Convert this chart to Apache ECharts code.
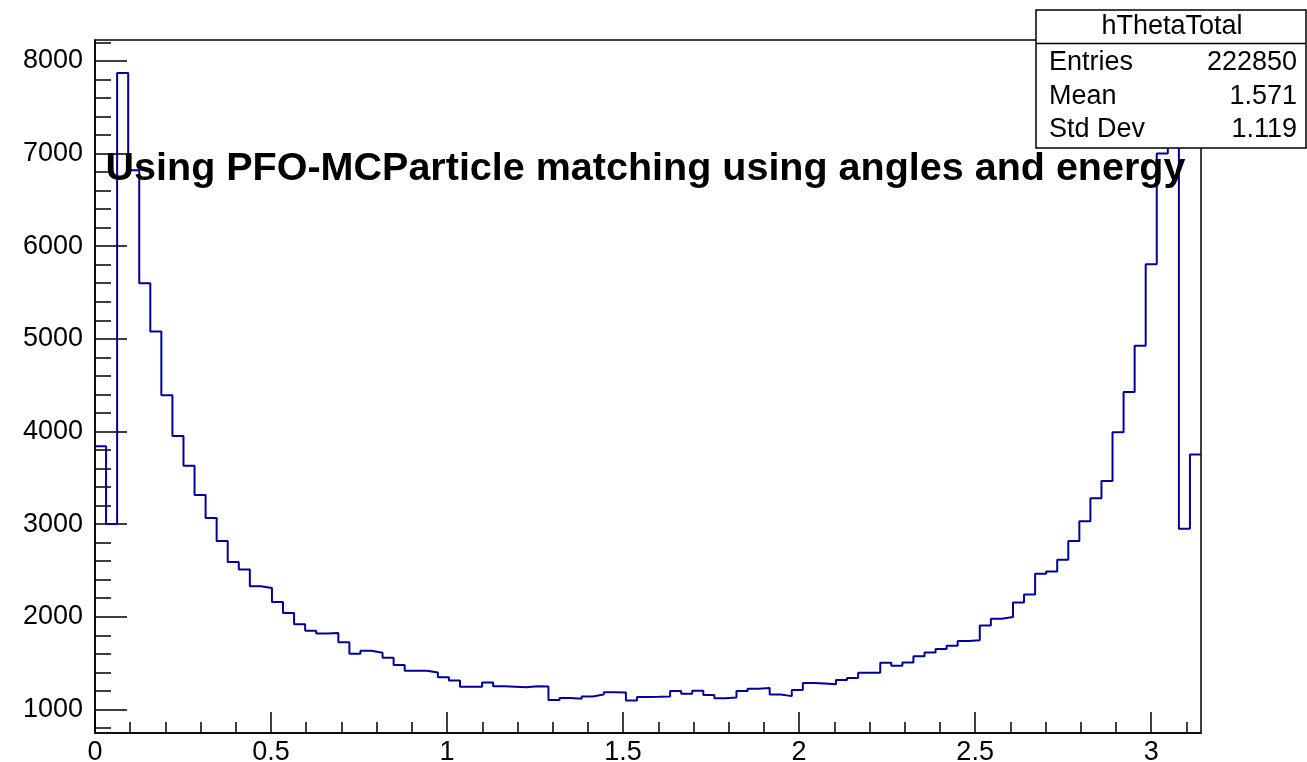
<!DOCTYPE html>
<html>
<head>
<meta charset="utf-8">
<title>hThetaTotal</title>
<script src="https://cdn.jsdelivr.net/npm/echarts@6/dist/echarts.min.js"></script>
<style>
  html, body { margin: 0; padding: 0; background: #fff; }
  #main { width: 1307px; height: 762px; }
</style>
</head>
<body>
<div id="main"></div>
<script>
  // hThetaTotal : 100 bins between 0 and pi
  var nBins = 100;
  var xMin = 0;
  var xMax = Math.PI;
  var binCounts = [
    3840, 3000, 7870, 6820, 5600, 5080, 4390, 3950, 3630, 3315,
    3065, 2817, 2590, 2510, 2330, 2310, 2160, 2040, 1918, 1848,
    1818, 1825, 1725, 1601, 1632, 1612, 1558, 1479, 1418, 1416,
    1398, 1348, 1313, 1245, 1245, 1290, 1250, 1244, 1238, 1250,
    1247, 1100, 1122, 1115, 1140, 1160, 1185, 1183, 1097, 1133,
    1135, 1140, 1197, 1170, 1200, 1156, 1120, 1129, 1197, 1223,
    1230, 1160, 1143, 1208, 1286, 1280, 1270, 1318, 1340, 1394,
    1394, 1502, 1470, 1507, 1573, 1615, 1651, 1688, 1737, 1746,
    1906, 1978, 1996, 2154, 2240, 2464, 2489, 2616, 2817, 3030,
    3280, 3465, 3990, 4425, 4925, 5805, 7000, 7920, 2950, 3750
  ];
  var xMajorTicks = [0, 0.5, 1, 1.5, 2, 2.5, 3];
  var xMinorTicks = [0.1, 0.2, 0.3, 0.4, 0.6, 0.7, 0.8, 0.9, 1.1, 1.2, 1.3, 1.4,
    1.6, 1.7, 1.8, 1.9, 2.1, 2.2, 2.3, 2.4, 2.6, 2.7, 2.8, 2.9, 3.1];
  var yMajorTicks = [1000, 2000, 3000, 4000, 5000, 6000, 7000, 8000];
  var yMinorTicks = [800, 1200, 1400, 1600, 1800, 2200, 2400, 2600, 2800,
    3200, 3400, 3600, 3800, 4200, 4400, 4600, 4800, 5200, 5400, 5600, 5800,
    6200, 6400, 6600, 6800, 7200, 7400, 7600, 7800, 8200];
  var yMin = 745;
  var yMax = 8225;
  var histName = 'hThetaTotal';
  var statsLabels = ['Entries', 'Mean', 'Std Dev'];
  var statsValues = ['222850', '1.571', '1.119'];
  var titleText = 'Using PFO-MCParticle matching using angles and energy';

  // outline of the histogram: left edge of every bin, plus the last right edge
  var binWidth = (xMax - xMin) / nBins;
  var outline = [];
  for (var i = 0; i < binCounts.length; i++) {
    outline.push([xMin + i * binWidth, binCounts[i]]);
  }
  outline.push([xMax, binCounts[binCounts.length - 1]]);

  var font = 'Liberation Sans, Arial, Helvetica, sans-serif';
  var black = '#000';

  var statsGraphics = [
    {
      type: 'rect', z: 100,
      shape: {x: 1036, y: 10, width: 270, height: 138},
      style: {fill: '#fff', stroke: black, lineWidth: 1.5}
    },
    {
      type: 'line', z: 101,
      shape: {x1: 1036, y1: 43.5, x2: 1306, y2: 43.5},
      style: {stroke: black, lineWidth: 1.5}
    },
    {
      type: 'text', z: 101, x: 1172, y: 27,
      style: {text: histName, font: '27px ' + font, fill: black, align: 'center', verticalAlign: 'middle'}
    }
  ];
  var rowY = [63, 96.5, 130];
  for (var r = 0; r < statsLabels.length; r++) {
    statsGraphics.push({
      type: 'text', z: 101, x: 1049, y: rowY[r],
      style: {text: statsLabels[r], font: '27px ' + font, fill: black, align: 'left', verticalAlign: 'middle'}
    });
    statsGraphics.push({
      type: 'text', z: 101, x: 1297, y: rowY[r],
      style: {text: statsValues[r], font: '27px ' + font, fill: black, align: 'right', verticalAlign: 'middle'}
    });
  }

  var chart = echarts.init(document.getElementById('main'), null, {renderer: 'canvas'});
  chart.setOption({
    animation: false,
    backgroundColor: '#fff',
    grid: {
      left: 95, right: 106, top: 40, bottom: 29,
      containLabel: false,
      outerBoundsMode: 'none',
      show: true,
      borderColor: black,
      borderWidth: 1.5,
      backgroundColor: 'transparent'
    },
    xAxis: [
      {
        type: 'value', min: xMin, max: xMax, position: 'bottom',
        axisLine: {show: true, onZero: false, lineStyle: {color: black, width: 1.5}},
        axisTick: {show: true, inside: true, length: 21, customValues: xMajorTicks,
          lineStyle: {color: black, width: 1.5}},
        axisLabel: {show: true, customValues: xMajorTicks, margin: 6,
          color: black, fontSize: 27, fontFamily: font,
          formatter: function (v) { return String(v); }},
        splitLine: {show: false}
      },
      {
        type: 'value', min: xMin, max: xMax, position: 'bottom',
        axisLine: {show: false, onZero: false},
        axisTick: {show: true, inside: true, length: 11, customValues: xMinorTicks,
          lineStyle: {color: black, width: 1.5}},
        axisLabel: {show: false},
        splitLine: {show: false}
      }
    ],
    yAxis: [
      {
        type: 'value', min: yMin, max: yMax, position: 'left',
        axisLine: {show: true, onZero: false, lineStyle: {color: black, width: 1.5}},
        axisTick: {show: true, inside: true, length: 32, customValues: yMajorTicks,
          lineStyle: {color: black, width: 1.5}},
        axisLabel: {show: true, customValues: yMajorTicks, margin: 12,
          color: black, fontSize: 27, fontFamily: font,
          formatter: function (v) { return String(v); }},
        splitLine: {show: false}
      },
      {
        type: 'value', min: yMin, max: yMax, position: 'left',
        axisLine: {show: false, onZero: false},
        axisTick: {show: true, inside: true, length: 16, customValues: yMinorTicks,
          lineStyle: {color: black, width: 1.5}},
        axisLabel: {show: false},
        splitLine: {show: false}
      }
    ],
    series: [
      {
        name: histName,
        type: 'line',
        step: 'end',
        symbol: 'none',
        xAxisIndex: 0,
        yAxisIndex: 0,
        data: outline,
        lineStyle: {color: '#000099', width: 2},
        clip: true,
        z: 2
      }
    ],
    graphic: [
      {
        type: 'text', z: 90, x: 645.5, y: 169,
        style: {text: titleText, font: 'bold 39.5px ' + font, fill: black,
          align: 'center', verticalAlign: 'middle'}
      }
    ].concat(statsGraphics)
  });
</script>
</body>
</html>
